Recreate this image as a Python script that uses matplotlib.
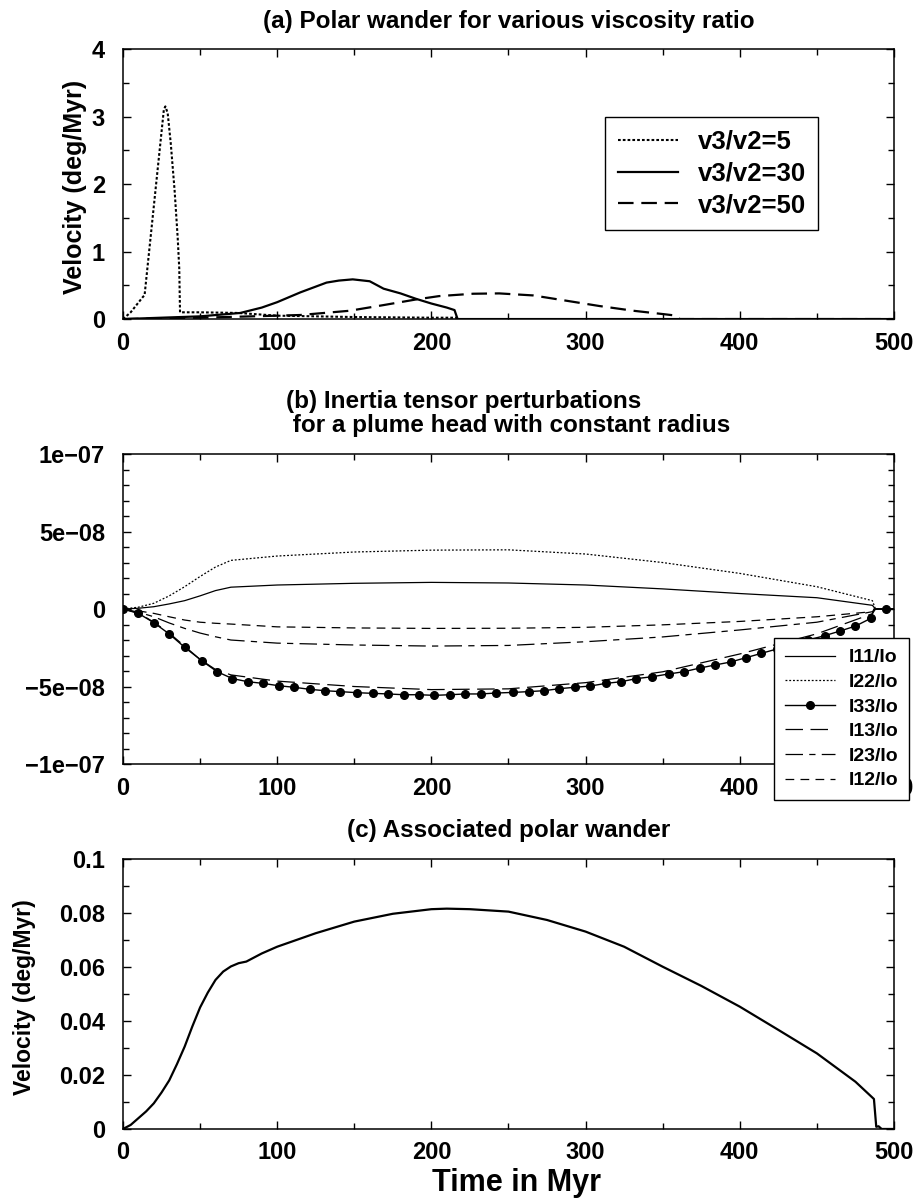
import numpy as np
import matplotlib.pyplot as plt
from matplotlib.ticker import MultipleLocator, FixedLocator, FixedFormatter

plt.rcParams['font.family'] = ['Liberation Sans', 'DejaVu Sans']
plt.rcParams['font.weight'] = 'bold'

# ---- (a) polar wander for various viscosity ratios (deg/Myr)
t_a5 = [0, 5, 13, 14, 20, 26.5, 27.5, 29, 31, 33.5, 35.5, 36.5, 37, 50, 75, 100, 150, 200, 216, 218, 500]
v_a5 = [0, 0.1, 0.33, 0.35, 1.67, 3.1, 3.15, 3.05, 2.6, 1.9, 1.2, 0.75, 0.1, 0.1, 0.09, 0.05, 0.03, 0.02, 0.02, 0, 0]
t_a30 = [0, 25, 50, 76, 90, 100, 115, 132, 140, 149, 160, 169, 180, 190, 200, 210, 215, 217, 500]
v_a30 = [0, 0.02, 0.04, 0.09, 0.17, 0.25, 0.395, 0.54, 0.57, 0.588, 0.56, 0.45, 0.38, 0.30, 0.23, 0.17, 0.133, 0, 0]
t_a50 = [0, 50, 100, 115, 147, 169, 190, 205, 227, 244, 266, 288, 309, 331, 352, 359, 361, 500]
v_a50 = [0, 0.02, 0.05, 0.06, 0.123, 0.207, 0.29, 0.34, 0.375, 0.38, 0.35, 0.27, 0.193, 0.123, 0.069, 0.05, 0, 0]
labels_a = ['v3/v2=5', 'v3/v2=30', 'v3/v2=50']

# ---- (b) inertia tensor perturbations (units of 1e-8)
scale_b = 1e-8
t_b = [0, 10, 20, 30, 40, 50, 60, 70, 100, 150, 200, 250, 300, 350, 400, 450, 486, 488, 500]
i11 = [0, 0.05, 0.15, 0.33, 0.54, 0.85, 1.19, 1.41, 1.55, 1.66, 1.72, 1.68, 1.55, 1.3, 1.0, 0.73, 0.24, 0, 0]
i22 = [0, 0.12, 0.37, 0.85, 1.44, 2.1, 2.71, 3.14, 3.42, 3.68, 3.8, 3.82, 3.55, 3.0, 2.3, 1.44, 0.54, 0, 0]
i13 = [0, -0.25, -0.85, -1.55, -2.4, -3.25, -3.9, -4.25, -4.65, -5.0, -5.2, -5.15, -4.75, -4.05, -2.9, -1.6, -0.3, 0, 0]
i23 = [0, -0.2, -0.5, -0.9, -1.25, -1.55, -1.79, -2.0, -2.2, -2.32, -2.39, -2.35, -2.11, -1.8, -1.35, -0.85, -0.17, 0, 0]
i12 = [0, -0.12, -0.28, -0.5, -0.71, -0.85, -0.92, -0.97, -1.15, -1.22, -1.25, -1.24, -1.18, -1.02, -0.8, -0.5, -0.17, 0, 0]
t_33 = [0, 10, 20, 30, 40, 51, 61, 71, 81, 91, 101, 111, 121, 131, 141, 152, 162, 172, 182, 192,
        202, 212, 222, 232, 242, 253, 263, 273, 283, 293, 303, 313, 323, 333, 343, 354, 364, 374, 384, 394,
        404, 414, 424, 434, 444, 455, 465, 475, 485, 487, 495, 500]
i33 = [0, -0.28, -0.88, -1.61, -2.47, -3.33, -4.04, -4.49, -4.69, -4.80, -4.95, -5.05, -5.18, -5.27, -5.33,
       -5.40, -5.44, -5.48, -5.53, -5.53, -5.57, -5.53, -5.48, -5.48, -5.42, -5.38, -5.33, -5.27, -5.14, -5.05,
       -4.97, -4.80, -4.69, -4.49, -4.37, -4.19, -4.04, -3.81, -3.61, -3.42, -3.14, -2.86, -2.58, -2.30, -2.01,
       -1.72, -1.42, -1.10, -0.60, 0, 0, 0]
labels_b = ['I11/Io', 'I22/Io', 'I33/Io', 'I13/Io', 'I23/Io', 'I12/Io']
yticks_b = [-1e-7, -5e-8, 0, 5e-8, 1e-7]
yticklabels_b = ['\u22121e\u221207', '\u22125e\u221208', '0', '5e\u221208', '1e\u221207']

# ---- (c) associated polar wander (deg/Myr)
t_c = [0, 5, 10, 15, 20, 25, 30, 35, 40, 45, 50, 55, 60, 65, 70, 75, 80, 90, 100, 125, 150, 175, 200,
       210, 225, 250, 275, 300, 325, 350, 375, 400, 425, 450, 475, 487, 488.5, 490, 492, 500]
v_c = [0, 0.0015, 0.004, 0.0065, 0.0095, 0.0135, 0.018, 0.024, 0.0305, 0.038, 0.045, 0.0505, 0.0552,
       0.0583, 0.0602, 0.0614, 0.062, 0.065, 0.0675, 0.0725, 0.0768, 0.0797, 0.0814, 0.0816, 0.0814,
       0.0805, 0.0774, 0.0731, 0.0675, 0.0601, 0.053, 0.0453, 0.0367, 0.028, 0.0175, 0.0111, 0.0008,
       0.001, 0, 0]

fig = plt.figure(figsize=(9.17, 11.99), dpi=100)
L, W = 0.1341, 0.8408
ax1 = fig.add_axes([L, 0.7339, W, 0.2252])
ax2 = fig.add_axes([L, 0.3628, W, 0.2585])
ax3 = fig.add_axes([L, 0.0584, W, 0.2252])

def style_axis(ax):
    ax.set_xlim(0, 500)
    ax.xaxis.set_major_locator(MultipleLocator(100))
    ax.xaxis.set_minor_locator(MultipleLocator(50))
    ax.tick_params(which='both', direction='in', top=True, right=True, width=1)
    ax.tick_params(which='major', length=6)
    ax.tick_params(which='minor', length=4)
    ax.tick_params(axis='x', labelsize=17, pad=9)
    ax.tick_params(axis='y', labelsize=17, pad=13)
    for s in ax.spines.values():
        s.set_linewidth(1.1)

# (a)
ax1.plot(t_a5, v_a5, color='black', lw=1.5, linestyle=(0, (1.3, 1.0)), label=labels_a[0])
ax1.plot(t_a30, v_a30, color='black', lw=1.6, label=labels_a[1])
ax1.plot(t_a50, v_a50, color='black', lw=1.6, linestyle=(0, (7, 3.5)), label=labels_a[2])
style_axis(ax1)
ax1.set_ylim(0, 4)
ax1.yaxis.set_major_locator(MultipleLocator(1))
ax1.yaxis.set_minor_locator(MultipleLocator(0.5))
ax1.set_title('(a) Polar wander for various viscosity ratio', fontsize=17.5, fontweight='bold', pad=15)
ax1.set_ylabel('Velocity (deg/Myr)', fontsize=18, fontweight='bold')
ax1.yaxis.set_label_coords(-0.047, 0.49)
leg1 = ax1.legend(loc='upper left', bbox_to_anchor=(605 / 917, 1 - 117 / 1199), bbox_transform=fig.transFigure,
                  borderaxespad=0, fontsize=18.5, handlelength=2.35, handletextpad=0.75, labelspacing=0.3,
                  borderpad=0.5, fancybox=False, framealpha=1, edgecolor='black')
leg1.get_frame().set_linewidth(1.0)

# (b)
ax2.plot(t_b, np.array(i11) * scale_b, color='black', lw=0.9, label=labels_b[0])
ax2.plot(t_b, np.array(i22) * scale_b, color='black', lw=0.9, linestyle=(0, (1.5, 1.5)), label=labels_b[1])
ax2.plot(t_33, np.array(i33) * scale_b, color='black', lw=1.0, marker='o', markersize=5.5,
         markevery=[k for k in range(len(t_33)) if t_33[k] not in (487, 500)], label=labels_b[2])
ax2.plot(t_b, np.array(i13) * scale_b, color='black', lw=0.9, linestyle=(0, (14, 6)), label=labels_b[3])
ax2.plot(t_b, np.array(i23) * scale_b, color='black', lw=0.9, linestyle=(0, (14, 5, 5, 5)), label=labels_b[4])
ax2.plot(t_b, np.array(i12) * scale_b, color='black', lw=0.9, linestyle=(0, (7, 5)), label=labels_b[5])
style_axis(ax2)
ax2.set_ylim(-1e-7, 1e-7)
ax2.yaxis.set_major_locator(FixedLocator(yticks_b))
ax2.yaxis.set_major_formatter(FixedFormatter(yticklabels_b))
ax2.yaxis.set_minor_locator(MultipleLocator(1e-8))
ax2.set_title('(b) Inertia tensor perturbations\n for a plume head with constant radius',
              fontsize=17.5, fontweight='bold', pad=16, linespacing=1.05, multialignment='left')
leg2 = ax2.legend(loc='upper left', bbox_to_anchor=(774 / 917, 1 - 638 / 1199), bbox_transform=fig.transFigure,
                  borderaxespad=0, fontsize=14, handlelength=2.6, handletextpad=0.7, labelspacing=0.36,
                  borderpad=0.55, fancybox=False, framealpha=1, edgecolor='black')
leg2.get_frame().set_linewidth(1.0)

# (c)
ax3.plot(t_c, v_c, color='black', lw=1.6)
style_axis(ax3)
ax3.set_ylim(0, 0.1)
ax3.yaxis.set_major_locator(FixedLocator([0, 0.02, 0.04, 0.06, 0.08, 0.1]))
ax3.yaxis.set_major_formatter(FixedFormatter(['0', '0.02', '0.04', '0.06', '0.08', '0.1']))
ax3.yaxis.set_minor_locator(MultipleLocator(0.01))
ax3.set_title('(c) Associated polar wander', fontsize=17.5, fontweight='bold', pad=16)
ax3.set_ylabel('Velocity (deg/Myr)', fontsize=16.5, fontweight='bold')
ax3.yaxis.set_label_coords(-0.113, 0.49)
ax3.set_xlabel('Time in Myr', fontsize=22, fontweight='bold')
ax3.xaxis.set_label_coords(0.51, -0.143)

fig.savefig('out.png', dpi=100)
